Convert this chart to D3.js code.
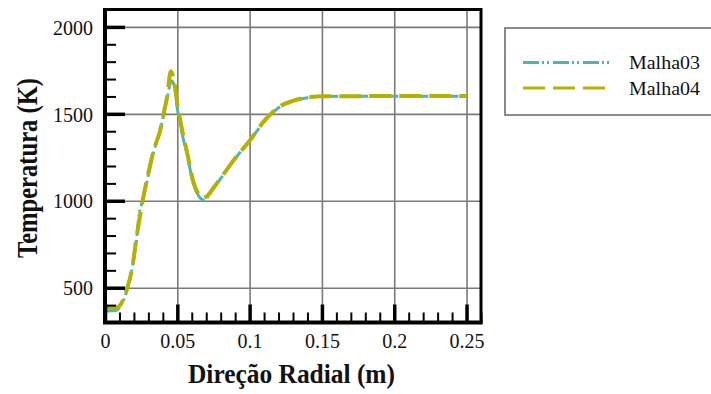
<!DOCTYPE html>
<html>
<head>
<meta charset="utf-8">
<script src="https://cdn.jsdelivr.net/npm/d3@7"></script>
<style>
  html, body { margin: 0; padding: 0; background: #ffffff; }
  svg { display: block; }
</style>
</head>
<body>
<svg id="chart" width="711" height="394" font-family="Liberation Serif"></svg>
<script>
// Radial temperature profiles for two mesh refinements
const radius03 = [0, 0.008, 0.011, 0.015, 0.0185, 0.022, 0.0237, 0.026, 0.03, 0.034, 0.038, 0.041, 0.043, 0.046, 0.048, 0.05, 0.0535, 0.057, 0.061, 0.065, 0.068, 0.071, 0.075, 0.08, 0.09, 0.1, 0.11, 0.12, 0.13, 0.14, 0.15, 0.2, 0.25];
const temp03   = [365, 370, 400, 480, 600, 790, 930, 995, 1150, 1290, 1400, 1510, 1590, 1690, 1660, 1530, 1380, 1255, 1100, 1025, 1005, 1020, 1070, 1128, 1243, 1343, 1455, 1535, 1573, 1592, 1600, 1601, 1601];

const radius04 = [0, 0.008, 0.0125, 0.015, 0.0185, 0.022, 0.026, 0.03, 0.034, 0.038, 0.041, 0.043, 0.0455, 0.0475, 0.05, 0.0535, 0.057, 0.061, 0.065, 0.0675, 0.071, 0.075, 0.08, 0.09, 0.1, 0.11, 0.12, 0.13, 0.14, 0.15, 0.2, 0.25];
const temp04   = [385, 385, 430, 488, 600, 800, 1000, 1160, 1300, 1400, 1520, 1600, 1745, 1700, 1560, 1400, 1270, 1110, 1035, 1018, 1030, 1075, 1130, 1245, 1345, 1458, 1538, 1575, 1594, 1601, 1602, 1602];

const seriesNames = ["Malha03", "Malha04"];
const xTicks = [0, 0.05, 0.1, 0.15, 0.2, 0.25];
const xTickLabels = ["0", "0.05", "0.1", "0.15", "0.2", "0.25"];
const yTicks = [500, 1000, 1500, 2000];
const yTickLabels = ["500", "1000", "1500", "2000"];
const xMinorTicks = d3.range(0, 0.2601, 0.01);
const yMinorTicks = d3.range(400, 2001, 100);

const svg = d3.select("#chart");
const plotLeft = 105, plotRight = 481, plotTop = 9.5, plotBottom = 322.5;

const x = d3.scaleLinear().domain([0, 0.26]).range([plotLeft, plotRight]);
const y = d3.scaleLinear().domain([300, 2100]).range([plotBottom, plotTop]);

const serif = '"Liberation Serif"';

// grid lines at major ticks
svg.append("g")
  .attr("transform", `translate(0,${plotBottom})`)
  .call(d3.axisBottom(x).tickValues(xTicks.filter(d => d > 0)).tickSize(-(plotBottom - plotTop)).tickFormat(""))
  .call(g => g.select(".domain").remove())
  .call(g => g.selectAll("line").attr("stroke", "#7a7a7a").attr("stroke-width", 1.6));
svg.append("g")
  .attr("transform", `translate(${plotLeft},0)`)
  .call(d3.axisLeft(y).tickValues(yTicks).tickSize(-(plotRight - plotLeft)).tickFormat(""))
  .call(g => g.select(".domain").remove())
  .call(g => g.selectAll("line").attr("stroke", "#7a7a7a").attr("stroke-width", 1.6));

// curves
const line = d3.line().x(d => x(d[0])).y(d => y(d[1])).curve(d3.curveMonotoneX);
const pts03 = radius03.map((r, i) => [r, temp03[i]]);
const pts04 = radius04.map((r, i) => [r, temp04[i]]);

const cyan = "#4fb5b1";
const olive = "#b4b100";

svg.append("path").datum(pts03)
  .attr("d", line).attr("fill", "none")
  .attr("stroke", cyan).attr("stroke-width", 3)
  .attr("stroke-dasharray", "16 3 2 3 2 4");
svg.append("path").datum(pts04)
  .attr("d", line).attr("fill", "none")
  .attr("stroke", olive).attr("stroke-width", 4)
  .attr("stroke-dasharray", "22 8");

// minor ticks pointing inward
svg.append("g")
  .attr("transform", `translate(${plotLeft},0)`)
  .call(d3.axisLeft(y).tickValues(yMinorTicks.filter(d => !yTicks.includes(d))).tickSize(-11).tickFormat(""))
  .call(g => g.select(".domain").remove())
  .call(g => g.selectAll("line").attr("stroke", "#000").attr("stroke-width", 2));
svg.append("g")
  .attr("transform", `translate(0,${plotBottom})`)
  .call(d3.axisBottom(x).tickValues(xMinorTicks.filter((d, i) => i % 5 !== 0)).tickSize(-10).tickFormat(""))
  .call(g => g.select(".domain").remove())
  .call(g => g.selectAll("line").attr("stroke", "#000").attr("stroke-width", 2));

// major ticks with labels
svg.append("g")
  .attr("transform", `translate(${plotLeft},0)`)
  .call(d3.axisLeft(y).tickValues(yTicks).tickSize(-20).tickPadding(12)
        .tickFormat((d, i) => yTickLabels[i]))
  .attr("font-family", null)
  .call(g => g.select(".domain").remove())
  .call(g => g.selectAll("line").attr("stroke", "#000").attr("stroke-width", 3.5))
  .call(g => g.selectAll("text").style("font-family", serif).style("font-size", "20px")
        .attr("fill", "#111").attr("dy", "0.36em"));
svg.append("g")
  .attr("transform", `translate(0,${plotBottom})`)
  .call(d3.axisBottom(x).tickValues(xTicks).tickSize(-18).tickPadding(11)
        .tickFormat((d, i) => xTickLabels[i]))
  .attr("font-family", null)
  .call(g => g.select(".domain").remove())
  .call(g => g.selectAll("line").attr("stroke", "#000").attr("stroke-width", 3.5))
  .call(g => g.selectAll("text").style("font-family", serif).style("font-size", "20px")
        .attr("fill", "#111").attr("dy", "0.71em"));

// frame
svg.append("rect")
  .attr("x", plotLeft).attr("y", plotTop)
  .attr("width", plotRight - plotLeft).attr("height", plotBottom - plotTop)
  .attr("fill", "none").attr("stroke", "#000").attr("stroke-width", 3);
svg.append("path")
  .attr("d", `M${plotLeft},${plotTop - 1.5}V${plotBottom}H${plotRight + 1.5}`)
  .attr("fill", "none").attr("stroke", "#000").attr("stroke-width", 4);

// axis titles
svg.append("text")
  .attr("x", 188).attr("y", 383)
  .style("font-family", serif).style("font-weight", "bold").style("font-size", "27px")
  .attr("textLength", 207).attr("lengthAdjust", "spacingAndGlyphs")
  .attr("fill", "#111")
  .text("Direção Radial (m)");
svg.append("text")
  .attr("transform", "translate(37,258) rotate(-90)")
  .style("font-family", serif).style("font-weight", "bold").style("font-size", "29px")
  .attr("textLength", 180).attr("lengthAdjust", "spacingAndGlyphs")
  .attr("fill", "#111")
  .text("Temperatura (K)");

// legend
const legend = svg.append("g");
legend.append("rect")
  .attr("x", 505).attr("y", 28).attr("width", 208).attr("height", 87)
  .attr("fill", "#fff").attr("stroke", "#6e6e6e").attr("stroke-width", 1.6);
const legendRows = [
  { name: seriesNames[0], color: cyan, dash: "16 3 2 3 2 4", ly: 62.5, x2: 611, ty: 69 },
  { name: seriesNames[1], color: olive, dash: "22 8", ly: 88, x2: 607, ty: 94.5 }
];
legendRows.forEach(r => {
  legend.append("line")
    .attr("x1", 523).attr("x2", r.x2).attr("y1", r.ly).attr("y2", r.ly)
    .attr("stroke", r.color).attr("stroke-width", 3).attr("stroke-dasharray", r.dash);
  legend.append("text")
    .attr("x", 629).attr("y", r.ty)
    .style("font-family", serif).style("font-size", "19px")
    .attr("textLength", 71).attr("lengthAdjust", "spacingAndGlyphs")
    .attr("fill", "#111")
    .text(r.name);
});
</script>
</body>
</html>
